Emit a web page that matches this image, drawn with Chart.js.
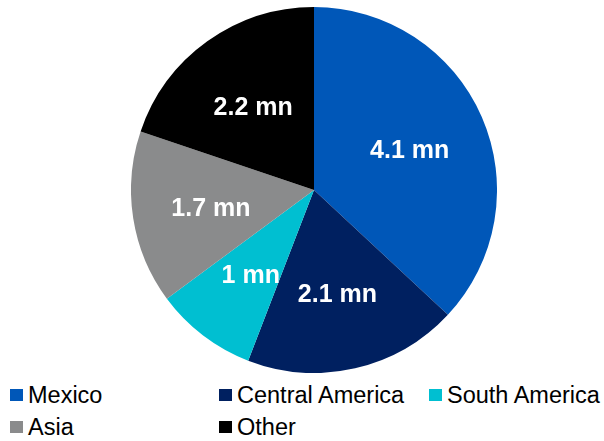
<!DOCTYPE html>
<html>
<head>
<meta charset="utf-8">
<script src="https://cdn.jsdelivr.net/npm/chart.js@4"></script>
<style>
  html, body { margin: 0; padding: 0; background: #fff; overflow: hidden; }
  body { width: 604px; height: 441px; position: relative; font-family: "Liberation Sans", Arial, sans-serif; }
  #pieBox { position: absolute; left: 131px; top: 7px; width: 366px; height: 366px; }
  .leyenda { position: absolute; font-size: 23.5px; color: #000; line-height: 24px; white-space: nowrap; }
  .leyenda span.caja { position: absolute; left: 0; top: 6px; width: 13px; height: 12px; }
  .leyenda span.texto { position: absolute; left: 18px; top: 0; }
</style>
</head>
<body>
<div id="pieBox"><canvas id="graficoTorta"></canvas></div>
<div id="leyendaBox"></div>
<script>
const regiones = ["Mexico", "Central America", "South America", "Asia", "Other"];
const millones = [4.1, 2.1, 1, 1.7, 2.2];
const etiquetas = ["4.1 mn", "2.1 mn", "1 mn", "1.7 mn", "2.2 mn"];
const colores = ["#0057b8", "#002060", "#00bfd1", "#8a8b8c", "#000000"];

// legend slots (column x, row y)
const slotsLeyenda = [[10, 383], [219, 383], [429, 383], [10, 415], [219, 415]];

let leyendaHTML = "";
regiones.forEach((region, i) => {
  const [x, y] = slotsLeyenda[i];
  leyendaHTML += `<div class="leyenda" style="left:${x}px;top:${y}px">` +
    `<span class="caja" style="background:${colores[i]}"></span>` +
    `<span class="texto">${region}</span></div>`;
});
document.getElementById("leyendaBox").innerHTML = leyendaHTML;

const etiquetasPlugin = {
  id: "etiquetas",
  afterDatasetsDraw(chart) {
    const ctx = chart.ctx;
    const meta = chart.getDatasetMeta(0);
    ctx.save();
    ctx.fillStyle = "#ffffff";
    ctx.font = "bold 25px 'Liberation Sans', Arial, sans-serif";
    ctx.textAlign = "center";
    ctx.textBaseline = "middle";
    meta.data.forEach((arc, i) => {
      const p = arc.getProps(["x", "y", "startAngle", "endAngle", "outerRadius"], true);
      const ang = (p.startAngle + p.endAngle) / 2;
      const r = p.outerRadius * 0.57;
      ctx.fillText(etiquetas[i], p.x + Math.cos(ang) * r, p.y + Math.sin(ang) * r + 3);
    });
    ctx.restore();
  }
};

new Chart(document.getElementById("graficoTorta"), {
  type: "pie",
  data: {
    labels: regiones,
    datasets: [{
      data: millones,
      backgroundColor: colores,
      borderWidth: 0
    }]
  },
  options: {
    responsive: true,
    maintainAspectRatio: false,
    animation: false,
    layout: { padding: 0 },
    plugins: {
      legend: { display: false },
      tooltip: { enabled: false }
    }
  },
  plugins: [etiquetasPlugin]
});
</script>
</body>
</html>
